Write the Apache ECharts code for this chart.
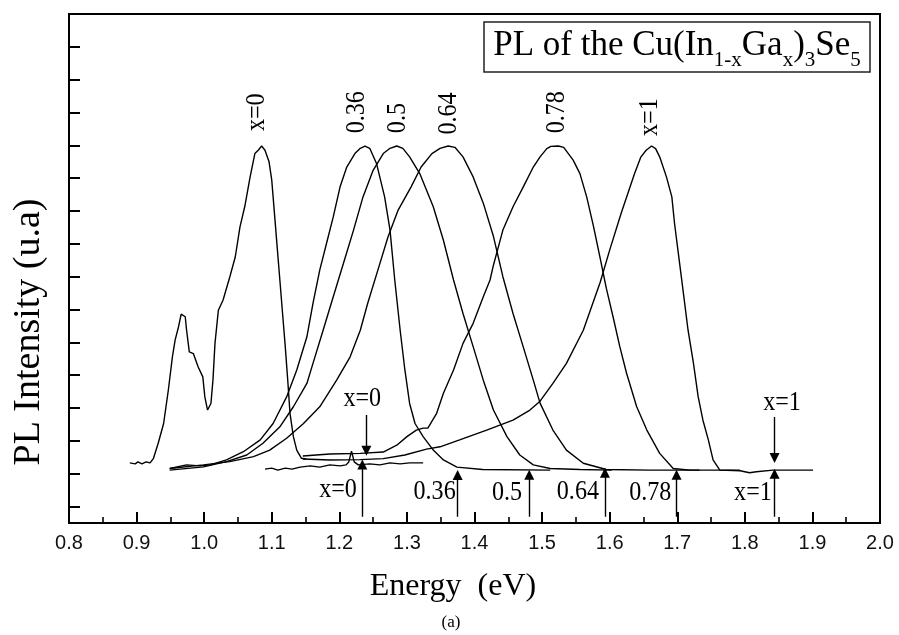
<!DOCTYPE html>
<html><head><meta charset="utf-8">
<script src="https://cdn.jsdelivr.net/npm/echarts@6/dist/echarts.min.js"></script>
<style>html,body{margin:0;padding:0;background:#fff}#c{width:899px;height:635px}</style>
</head><body><div id="c"></div>
<script>
// Energy (eV) / PL intensity (arb. units, tick spacing = 1)
const curveX0 = [[0.890,1.33],[0.898,1.30],[0.902,1.36],[0.908,1.30],[0.914,1.36],[0.920,1.33],[0.925,1.47],[0.932,1.93],[0.940,2.53],[0.947,3.55],[0.953,4.56],[0.957,5.07],[0.962,5.47],[0.966,5.86],[0.972,5.78],[0.974,5.37],[0.978,4.71],[0.984,4.66],[0.991,4.26],[0.998,3.95],[1.001,3.34],[1.005,2.94],[1.010,3.14],[1.013,3.85],[1.016,4.97],[1.021,5.98],[1.028,6.29],[1.038,7.00],[1.046,7.60],[1.053,8.52],[1.060,9.13],[1.068,10.04],[1.075,10.75],[1.080,10.85],[1.085,10.98],[1.090,10.85],[1.096,10.50],[1.100,9.94],[1.104,8.93],[1.108,7.91],[1.112,6.90],[1.116,5.88],[1.120,4.87],[1.124,3.75],[1.127,2.84],[1.132,2.13],[1.137,1.72],[1.144,1.47],[1.151,1.45]];
const curveX036 = [[0.949,1.16],[0.974,1.27],[0.994,1.24],[1.009,1.27],[1.033,1.42],[1.058,1.67],[1.083,2.03],[1.102,2.53],[1.122,3.34],[1.137,4.16],[1.152,5.17],[1.161,6.19],[1.171,7.20],[1.181,8.01],[1.191,8.82],[1.201,9.73],[1.211,10.34],[1.223,10.75],[1.231,10.91],[1.238,10.98],[1.245,10.91],[1.255,10.45],[1.267,9.43],[1.275,8.42],[1.282,6.90],[1.290,5.37],[1.297,4.16],[1.304,3.14],[1.312,2.53],[1.324,2.13],[1.339,1.72],[1.354,1.42],[1.374,1.20],[1.412,1.13],[1.512,1.11]];
const curveX050 = [[0.949,1.11],[0.999,1.21],[1.033,1.37],[1.063,1.57],[1.087,1.93],[1.112,2.43],[1.132,3.04],[1.152,3.75],[1.161,4.36],[1.176,5.37],[1.191,6.39],[1.206,7.40],[1.221,8.42],[1.235,9.43],[1.250,10.24],[1.265,10.75],[1.275,10.91],[1.285,10.98],[1.294,10.91],[1.304,10.65],[1.319,10.14],[1.339,9.13],[1.354,8.11],[1.369,6.90],[1.383,5.88],[1.398,4.87],[1.413,3.85],[1.428,2.94],[1.448,2.13],[1.467,1.57],[1.487,1.27],[1.512,1.16],[1.556,1.13],[1.603,1.11]];
const curveX064 = [[0.949,1.16],[0.999,1.27],[1.038,1.37],[1.073,1.52],[1.097,1.72],[1.122,2.08],[1.147,2.53],[1.171,3.04],[1.196,3.85],[1.216,4.56],[1.231,5.37],[1.242,6.19],[1.257,7.20],[1.272,8.21],[1.287,9.03],[1.306,9.73],[1.321,10.34],[1.337,10.75],[1.349,10.91],[1.361,10.98],[1.371,10.94],[1.383,10.65],[1.398,10.04],[1.413,9.24],[1.428,8.23],[1.442,7.00],[1.457,5.88],[1.472,4.87],[1.487,3.85],[1.497,3.15],[1.516,2.33],[1.536,1.72],[1.561,1.32],[1.595,1.13],[1.659,1.11],[1.733,1.11]];
const curveX078 = [[1.146,1.54],[1.186,1.60],[1.231,1.62],[1.265,1.66],[1.285,1.87],[1.300,2.13],[1.314,2.33],[1.324,2.39],[1.331,2.39],[1.338,2.63],[1.344,2.84],[1.354,3.45],[1.369,4.16],[1.383,4.97],[1.398,5.58],[1.413,6.39],[1.423,6.90],[1.428,7.35],[1.442,8.42],[1.457,9.13],[1.472,9.73],[1.487,10.34],[1.497,10.65],[1.507,10.90],[1.513,10.97],[1.524,10.98],[1.532,10.94],[1.546,10.55],[1.556,10.14],[1.566,9.43],[1.576,8.54],[1.586,7.56],[1.595,6.65],[1.605,5.78],[1.615,4.87],[1.625,4.06],[1.640,3.04],[1.655,2.33],[1.674,1.62],[1.694,1.16],[1.719,1.11],[1.793,1.11]];
const curveX1 = [[1.146,1.45],[1.186,1.42],[1.231,1.43],[1.265,1.46],[1.297,1.57],[1.329,1.75],[1.349,1.82],[1.378,2.03],[1.418,2.33],[1.457,2.63],[1.482,2.94],[1.497,3.21],[1.516,3.75],[1.536,4.36],[1.561,5.37],[1.586,6.83],[1.600,7.81],[1.617,8.93],[1.627,9.54],[1.637,10.15],[1.646,10.64],[1.654,10.85],[1.662,10.98],[1.668,10.90],[1.674,10.65],[1.684,10.04],[1.692,9.43],[1.696,8.62],[1.701,7.81],[1.706,7.00],[1.711,6.19],[1.716,5.37],[1.724,4.36],[1.731,3.34],[1.738,2.63],[1.746,2.03],[1.753,1.42],[1.763,1.11],[1.793,1.09],[1.807,1.03],[1.817,1.06],[1.842,1.11],[1.901,1.11]];
const noiseSegment = [[1.090,1.14],[1.100,1.17],[1.109,1.11],[1.120,1.17],[1.130,1.14],[1.142,1.20],[1.157,1.24],[1.171,1.20],[1.186,1.27],[1.201,1.24],[1.210,1.27],[1.214,1.36],[1.218,1.69],[1.222,1.36],[1.228,1.27],[1.245,1.30],[1.260,1.27],[1.275,1.33],[1.290,1.30],[1.304,1.33],[1.324,1.33]];

// peak labels: [text, energy, intensity]
const peakLabels = [['x=0',1.078,12.01],['0.36',1.226,12.01],['0.5',1.287,11.83],['0.64',1.362,11.97],['0.78',1.522,12.01],['x=1',1.659,11.86]];
// arrows: [energy, from, to]
const arrows = [[1.240,2.79,1.70],[1.844,2.73,1.48],[1.234,-0.31,1.28],[1.375,-0.31,0.96],[1.481,-0.31,0.97],[1.593,-0.31,1.03],[1.699,-0.31,0.97],[1.844,-0.31,1.00]];
// arrow labels: [text, energy, intensity]
const arrowLabels = [['x=0',1.234,3.30],['x=1',1.855,3.15],['x=0',1.198,0.51],['0.36',1.341,0.45],['0.5',1.448,0.41],['0.64',1.553,0.45],['0.78',1.660,0.41],['x=1',1.812,0.41]];
const yTickValues = [0,1,2,3,4,5,6,7,8,9,10,11,12,13,14];
const titlePieces = [['PL of the Cu(In','m'],['1-x','s'],['Ga','m'],['x','s'],[')','m'],['3','s'],['Se','m'],['5','s']];

const SERIF = '"Liberation Serif","Times New Roman",serif';
const chart = echarts.init(document.getElementById('c'));
const lineS = d => ({type:'line', data:d, symbol:'none', showSymbol:false, silent:true, animation:false,
  lineStyle:{color:'#000', width:1.4}, z:3});
const textS = (arr, rot) => ({type:'custom', silent:true, animation:false, clip:false, z:5,
  data: arr.map(a => [a[1], a[2]]),
  renderItem:(params, api) => {
    const p = api.coord([api.value(0), api.value(1)]);
    return {type:'text', x:p[0], y:p[1], rotation:rot, scaleX:0.86,
      style:{text:arr[params.dataIndex][0], fontFamily:SERIF, fontSize:28, fill:'#000', textAlign:'center', textVerticalAlign:'middle'}};
  }});

const arrowSeries = textS(arrowLabels, 0);
arrowSeries.markLine = {silent:true, animation:false, symbol:['none','triangle'], symbolSize:10,
  label:{show:false}, lineStyle:{color:'#000', width:1.4, type:'solid'},
  data: arrows.map(a => [{coord:[a[0],a[1]]},{coord:[a[0],a[2]]}])};

// title with true subscripts
const ctx = document.createElement('canvas').getContext('2d');
const sizes = {m:35, s:21};
const widths = titlePieces.map(p => { ctx.font = sizes[p[1]] + 'px "Liberation Serif"'; return ctx.measureText(p[0]).width; });
const total = widths.reduce((a,b)=>a+b,0);
let tx = 677 - total/2;
const titleEls = titlePieces.map((p,i) => {
  const el = {type:'text', x:tx, y:(p[1]==='m'?46:60), z:11,
    style:{text:p[0], fontFamily:SERIF, fontSize:sizes[p[1]], fill:'#000', textAlign:'left', textVerticalAlign:'middle'}};
  tx += widths[i];
  return el;
});

chart.setOption({
  animation:false,
  grid:{left:69, right:19, top:14, bottom:112, show:true, borderColor:'#000', borderWidth:2},
  xAxis:{type:'value', min:0.8, max:2.0, interval:0.1,
    axisLine:{onZero:false, lineStyle:{color:'#000', width:2}},
    axisTick:{inside:true, length:11, lineStyle:{color:'#000', width:2}},
    minorTick:{show:true, splitNumber:2, length:6, lineStyle:{color:'#000', width:1.6}},
    splitLine:{show:false},
    axisLabel:{color:'#111', fontSize:20, fontFamily:'"Liberation Sans",Arial,sans-serif', margin:10,
      formatter:v => v.toFixed(1), showMaxLabel:true, showMinLabel:true}},
  yAxis:{type:'value', min:-0.5, max:15,
    axisLine:{show:true, onZero:false, lineStyle:{color:'#000', width:2}},
    axisTick:{show:true, inside:true, length:11, customValues:yTickValues, lineStyle:{color:'#000', width:2}},
    axisLabel:{show:false}, splitLine:{show:false}},
  series:[lineS(curveX0), lineS(curveX036), lineS(curveX050), lineS(curveX064), lineS(curveX078), lineS(curveX1), lineS(noiseSegment),
    textS(peakLabels, Math.PI/2), arrowSeries],
  graphic:[
    {type:'text', x:29, y:332, rotation:Math.PI/2, style:{text:'PL Intensity (u.a)', fontFamily:SERIF, fontSize:38, fill:'#000', textAlign:'center', textVerticalAlign:'middle'}},
    {type:'text', x:453, y:587, style:{text:'Energy  (eV)', fontFamily:SERIF, fontSize:32, fill:'#000', textAlign:'center', textVerticalAlign:'middle'}},
    {type:'text', x:451, y:623, style:{text:'(a)', fontFamily:SERIF, fontSize:17, fill:'#000', textAlign:'center', textVerticalAlign:'middle'}},
    {type:'rect', shape:{x:484, y:22, width:386, height:50}, style:{fill:'#fff', stroke:'#222', lineWidth:1.5}, z:10}
  ].concat(titleEls)
});
</script></body></html>
